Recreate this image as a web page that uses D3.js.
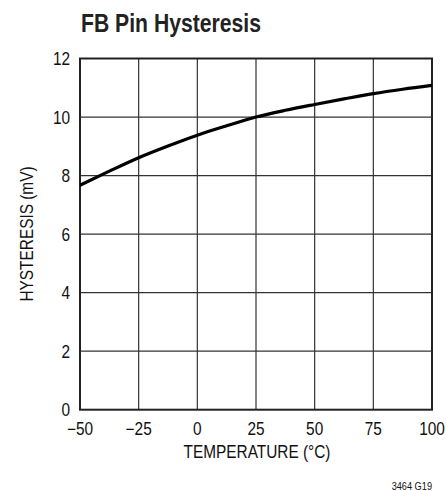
<!DOCTYPE html>
<html><head><meta charset="utf-8">
<script src="https://cdn.jsdelivr.net/npm/d3@7"></script>
<style>
body{margin:0;background:#fff;}
text{font-family:"Liberation Sans",Arial,sans-serif;}
</style></head>
<body><svg id="c" width="446" height="491"></svg>
<script>
const temps = [-50,-37.5,-25,-12.5,0,12.5,25,37.5,50,62.5,75,87.5,100];
const hyst  = [7.67,8.15,8.61,9.01,9.38,9.70,10.0,10.23,10.43,10.62,10.80,10.95,11.08];
const xTicks = [-50,-25,0,25,50,75,100];
const yTicks = [0,2,4,6,8,10,12];

const svg = d3.select("#c");
const L=80, R=432, T=58.5, B=409.7;
const x = d3.scaleLinear().domain([-50,100]).range([L,R]);
const y = d3.scaleLinear().domain([0,12]).range([B,T]);

function txt(px,py,str,size,opts){
  opts=opts||{};
  const sx=opts.sx||0.88, rot=opts.rot||0;
  return svg.append("text")
    .attr("transform",`translate(${px},${py}) rotate(${rot}) scale(${sx},1)`)
    .attr("text-anchor",opts.anchor||"start")
    .attr("font-size",size).attr("font-weight",opts.weight||"normal")
    .attr("fill",opts.fill||"#111").text(str);
}

// grid
svg.append("g").selectAll("line").data(xTicks.slice(1,-1)).join("line")
  .attr("x1",d=>x(d)).attr("x2",d=>x(d)).attr("y1",T).attr("y2",B)
  .attr("stroke","#333").attr("stroke-width",1.2);
svg.append("g").selectAll("line").data(yTicks.slice(1,-1)).join("line")
  .attr("y1",d=>y(d)).attr("y2",d=>y(d)).attr("x1",L).attr("x2",R)
  .attr("stroke","#333").attr("stroke-width",1.2);
// frame
svg.append("rect").attr("x",L).attr("y",T).attr("width",R-L).attr("height",B-T)
  .attr("fill","none").attr("stroke","#222").attr("stroke-width",2);

// curve
svg.append("path").datum(temps.map((t,i)=>[t,hyst[i]]))
  .attr("d",d3.line().x(d=>x(d[0])).y(d=>y(d[1])).curve(d3.curveMonotoneX))
  .attr("fill","none").attr("stroke","#000").attr("stroke-width",3.2);

// tick labels
yTicks.forEach(d=>txt(L-10,y(d)+6.5,String(d),17.5,{anchor:"end"}));
xTicks.forEach(d=>txt(x(d),435,d<0?"\u2212"+Math.abs(d):String(d),17.5,{anchor:"middle"}));

// axis titles
txt((L+R)/2+1,457.5,"TEMPERATURE (°C)",17.5,{anchor:"middle"});
txt(33,(165+303)/2,"HYSTERESIS (mV)",17.5,{anchor:"middle",rot:-90});

// title
txt(81,32,"FB Pin Hysteresis",25,{weight:"bold",sx:0.847,fill:"#222"});
// code
txt(432,489.5,"3464 G19",10,{anchor:"end",sx:0.92});
</script></body></html>
